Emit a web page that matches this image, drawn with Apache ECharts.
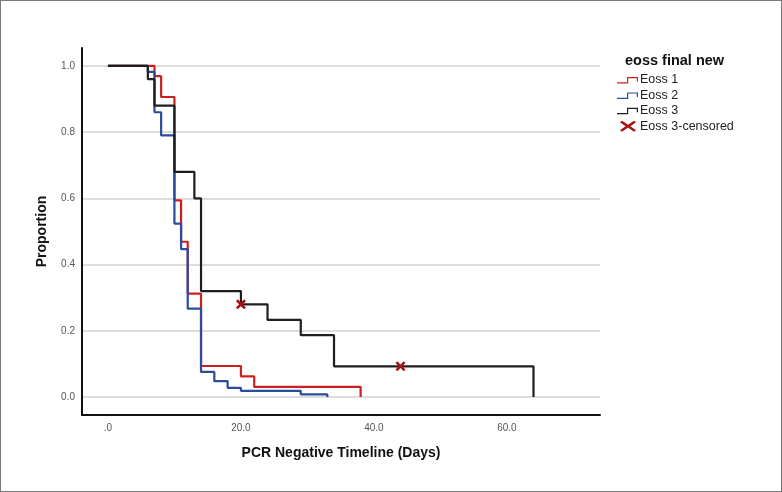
<!DOCTYPE html>
<html>
<head>
<meta charset="utf-8">
<script src="https://cdn.jsdelivr.net/npm/echarts@6/dist/echarts.min.js"></script>
<style>
html,body{margin:0;padding:0;background:#fff;}
#c{width:782px;height:492px;box-sizing:border-box;border:1px solid #7a7a7a;}
</style>
</head>
<body>
<div id="c"></div>
<script>
// Kaplan-Meier step data
const eoss1Days = [0, 7, 8, 10, 11, 12, 14, 20, 22, 38];
const eoss1Prop = [1.0, 0.969, 0.906, 0.594, 0.469, 0.3125, 0.094, 0.0625, 0.031, 0.0];
const eoss2Days = [0, 6, 7, 8, 10, 11, 12, 14, 16, 18, 20, 29, 33];
const eoss2Prop = [1.0, 0.982, 0.86, 0.79, 0.524, 0.447, 0.267, 0.076, 0.048, 0.028, 0.019, 0.008, 0.0];
const eoss3Days = [0, 6, 7, 10, 13, 14, 20, 24, 29, 34, 64];
const eoss3Prop = [1.0, 0.96, 0.88, 0.68, 0.60, 0.32, 0.28, 0.233, 0.187, 0.093, 0.0];
const censDays = [20, 44];
const censProp = [0.28, 0.093];
const xTicks = [0, 20, 40, 60];
const yTicks = [0, 0.2, 0.4, 0.6, 0.8, 1.0];
const seriesNames = ['Eoss 1', 'Eoss 2', 'Eoss 3', 'Eoss 3-censored'];

const zip = (a, b) => a.map((v, i) => [v, b[i]]);
const pad = 'M0,0 L0.01,0 L0,0.01 Z M22,12 L21.99,12 L22,11.99 Z ';
const stepIcon = 'path://' + pad +
  'M0,8.3 L10,8.3 L10,3 L21,3 L21,7.5 L19.8,7.5 L19.8,4.2 L11.2,4.2 L11.2,9.5 L0,9.5 Z';
const xLegendIcon = 'path://' + pad +
  'M3,2 L5,0.5 L11,4.6 L17,0.5 L19,2 L13.4,6 L19,10 L17,11.5 L11,7.4 L5,11.5 L3,10 L8.6,6 Z';
const xIcon = 'path://M0,1.8 L1.8,0 L5,3.2 L8.2,0 L10,1.8 L6.8,5 L10,8.2 L8.2,10 L5,6.8 L1.8,10 L0,8.2 L3.2,5 Z';
const FONT = '"Liberation Sans", Arial, sans-serif';

const chart = echarts.init(document.getElementById('c'));
chart.setOption({
  animation: false,
  textStyle: { fontFamily: FONT },
  title: {
    text: 'eoss final new',
    left: 619, top: 47,
    textStyle: { fontFamily: FONT, fontSize: 14.5, fontWeight: 'bold', color: '#111' }
  },
  legend: {
    orient: 'vertical',
    left: 611, top: 67.5,
    itemWidth: 22, itemHeight: 12, itemGap: 2.4,
    textStyle: { fontFamily: FONT, fontSize: 12.5, color: '#222', lineHeight: 13, padding: [0, 0, 0, -4] },
    data: [
      { name: seriesNames[0], icon: stepIcon },
      { name: seriesNames[1], icon: stepIcon },
      { name: seriesNames[2], icon: stepIcon },
      { name: seriesNames[3], icon: xLegendIcon, itemStyle: { color: '#a81010', opacity: 1 } }
    ]
  },
  grid: { left: 81, top: 47, right: 181, bottom: 76, containLabel: false },
  xAxis: {
    type: 'value', min: -3.9, max: 74,
    name: 'PCR Negative Timeline (Days)', nameLocation: 'middle', nameGap: 31,
    nameTextStyle: { fontFamily: FONT, fontSize: 14, fontWeight: 'bold', color: '#111' },
    axisLine: { show: true, onZero: false, lineStyle: { color: '#111', width: 2 } },
    axisTick: { show: false, customValues: xTicks },
    axisLabel: { customValues: xTicks, color: '#555', fontSize: 10, margin: 8,
      formatter: v => v === 0 ? '.0' : v.toFixed(1) },
    splitLine: { show: false }
  },
  yAxis: {
    type: 'value', min: -0.054, max: 1.054,
    name: 'Proportion', nameLocation: 'middle', nameGap: 33,
    nameTextStyle: { fontFamily: FONT, fontSize: 14, fontWeight: 'bold', color: '#111' },
    axisLine: { show: true, onZero: false, lineStyle: { color: '#111', width: 2 } },
    axisTick: { show: false, customValues: yTicks },
    axisLabel: { customValues: yTicks, color: '#555', fontSize: 10, margin: 7,
      formatter: v => v.toFixed(1) },
    splitLine: { show: true, lineStyle: { color: '#d2d2d2', width: 1.5 } }
  },
  series: [
    { name: seriesNames[0], type: 'line', step: 'end', data: zip(eoss1Days, eoss1Prop),
      showSymbol: false, symbol: 'none', color: '#cc2020', lineStyle: { width: 2.2 } },
    { name: seriesNames[1], type: 'line', step: 'end', data: zip(eoss2Days, eoss2Prop),
      showSymbol: false, symbol: 'none', color: '#2a4c9c', lineStyle: { width: 2.2 } },
    { name: seriesNames[2], type: 'line', step: 'end', data: zip(eoss3Days, eoss3Prop),
      showSymbol: false, symbol: 'none', color: '#1e1e1e', lineStyle: { width: 2.2 } },
    { name: seriesNames[3], type: 'scatter', data: zip(censDays, censProp),
      symbol: xIcon, symbolSize: 10, color: '#a51212', itemStyle: { opacity: 1 }, z: 5 }
  ]
});
</script>
</body>
</html>
